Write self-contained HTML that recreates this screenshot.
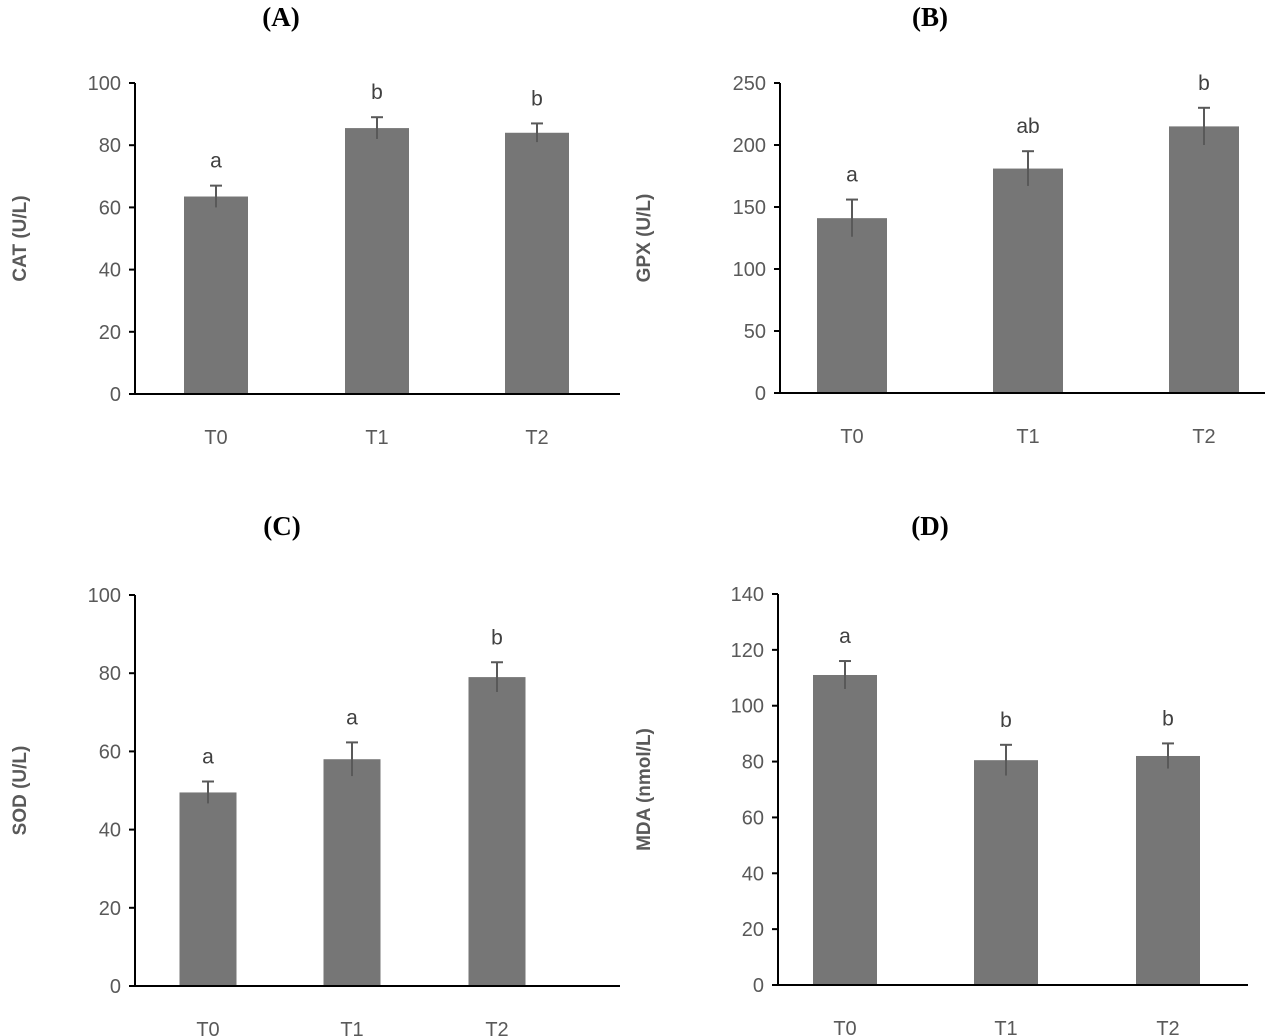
<!DOCTYPE html>
<html><head><meta charset="utf-8"><style>
body{margin:0;background:#fff;}
svg{display:block;}
.s{font-family:"Liberation Sans",sans-serif;}
</style></head><body>
<svg id="fig" width="1280" height="1036"></svg>
<script>
const categories=["T0","T1","T2"];
const catValues=[63.5,85.5,84];
const catErrors=[3.5,3.5,3];
const catLetters=["a","b","b"];
const gpxValues=[141,181,215];
const gpxErrors=[15,14,15];
const gpxLetters=["a","ab","b"];
const sodValues=[49.5,58,79];
const sodErrors=[2.8,4.3,3.8];
const sodLetters=["a","a","b"];
const mdaValues=[111,80.5,82];
const mdaErrors=[5,5.5,4.5];
const mdaLetters=["a","b","b"];
const catTicks=[0,20,40,60,80,100];
const gpxTicks=[0,50,100,150,200,250];
const sodTicks=[0,20,40,60,80,100];
const mdaTicks=[0,20,40,60,80,100,120,140];

const NS="http://www.w3.org/2000/svg";
const svg=document.getElementById('fig');
function mk(tag,attrs,parent,txt){const e=document.createElementNS(NS,tag);for(const k in attrs)e.setAttribute(k,attrs[k]);if(txt!==undefined)e.textContent=txt;(parent||svg).appendChild(e);return e;}

function panel(p){
  const g=mk('g',{});
  
  
  const maxT=p.ticks[p.ticks.length-1];
  const y=v=>p.y0-(v/maxT)*(p.y0-p.yTop);
  const t=mk('text',{x:p.titleX,y:p.titleY,'text-anchor':'middle',style:'font-family:"Liberation Serif",serif;font-size:27px;font-weight:bold',fill:'#000'},g,p.title);
  
  
  p.ticks.forEach(tv=>{
    mk('line',{x1:p.ax-6,x2:p.ax,y1:y(tv),y2:y(tv),stroke:'#000','stroke-width':2},g);
    const tl=mk('text',{class:'s',x:p.ax-14,y:y(tv)+7,'text-anchor':'end','font-size':20,fill:'#595959'},g,String(tv));
    
    
  });
  const yt=mk('text',{class:'s',transform:`translate(${p.ytX},${(p.y0+p.yTop)/2}) rotate(-90)`,'text-anchor':'middle','font-size':19,'font-weight':'bold',fill:'#595959'},g,p.ylabel);
  
  
  p.values.forEach((v,i)=>{
    const cx=p.centers[i];
    const b=mk('rect',{x:cx-p.bw/2,y:y(v),width:p.bw,height:p.y0-y(v),fill:'#767676'},g);
    
    
    const et=y(v+p.errors[i]);
    mk('line',{x1:cx,x2:cx,y1:et,y2:y(v-p.errors[i]),stroke:'#595959','stroke-width':2},g);
    mk('line',{x1:cx-6,x2:cx+6,y1:et,y2:et,stroke:'#595959','stroke-width':2},g);
    const lt=mk('text',{class:'s',x:cx,y:et-18,'text-anchor':'middle','font-size':21,fill:'#404040'},g,p.letters[i]);
    
    
    const xl=mk('text',{class:'s',x:cx,y:p.y0+50,'text-anchor':'middle','font-size':20,fill:'#595959'},g,categories[i]);
    
    
  });
  mk('line',{x1:p.ax,x2:p.ax,y1:p.yTop,y2:p.y0,stroke:'#000','stroke-width':2},g);
  mk('line',{x1:p.ax,x2:p.axEnd,y1:p.y0,y2:p.y0,stroke:'#000','stroke-width':2},g);
}
panel({name:'panel-a-cat',title:'(A)',titleX:281,titleY:26,ax:135,axEnd:620,y0:394,yTop:83,ticks:catTicks,values:catValues,errors:catErrors,letters:catLetters,centers:[216,377,537],bw:64,ylabel:'CAT (U/L)',ytX:26});
panel({name:'panel-b-gpx',title:'(B)',titleX:930,titleY:26,ax:780,axEnd:1265,y0:393,yTop:83,ticks:gpxTicks,values:gpxValues,errors:gpxErrors,letters:gpxLetters,centers:[852,1028,1204],bw:70,ylabel:'GPX (U/L)',ytX:650});
panel({name:'panel-c-sod',title:'(C)',titleX:282,titleY:535,ax:135,axEnd:620,y0:986,yTop:595,ticks:sodTicks,values:sodValues,errors:sodErrors,letters:sodLetters,centers:[208,352,497],bw:57,ylabel:'SOD (U/L)',ytX:26});
panel({name:'panel-d-mda',title:'(D)',titleX:930,titleY:535,ax:778,axEnd:1248,y0:985,yTop:594,ticks:mdaTicks,values:mdaValues,errors:mdaErrors,letters:mdaLetters,centers:[845,1006,1168],bw:64,ylabel:'MDA (nmol/L)',ytX:650});
</script>
</body></html>
